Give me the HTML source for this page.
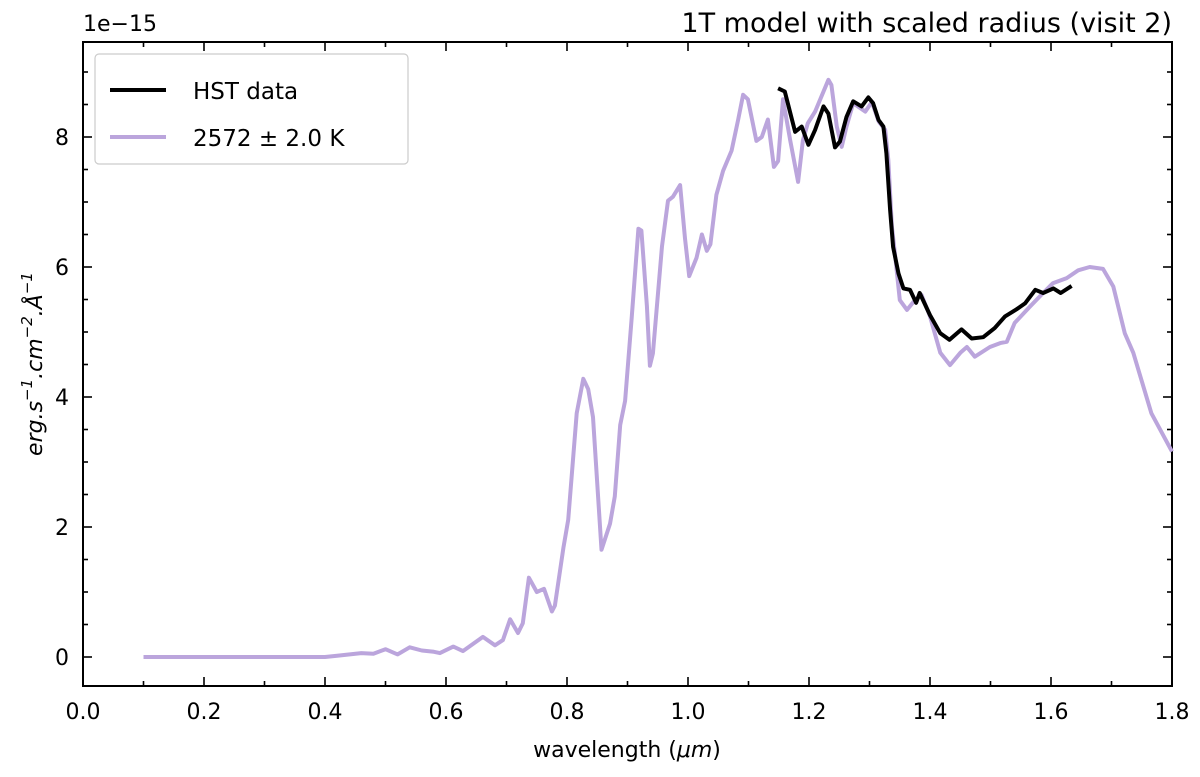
<!DOCTYPE html>
<html><head><meta charset="utf-8"><style>
body{margin:0;background:#fff}
svg text{font-family:"DejaVu Sans","Liberation Sans",sans-serif;fill:#000}
</style></head><body>
<svg id="c" width="1200" height="772"></svg>
<script>
const xTicks=[0.0,0.2,0.4,0.6,0.8,1.0,1.2,1.4,1.6,1.8];
const yTicks=[0,2,4,6,8];
const modelX=[0.1,0.2,0.3,0.4,0.42,0.46,0.48,0.5,0.52,0.54,0.56,0.58,0.59,0.612,0.628,0.661,0.681,0.694,0.706,0.719,0.727,0.737,0.75,0.762,0.775,0.78,0.794,0.802,0.816,0.827,0.835,0.843,0.857,0.871,0.879,0.888,0.896,0.907,0.918,0.923,0.932,0.937,0.942,0.957,0.967,0.975,0.987,0.995,1.002,1.014,1.023,1.031,1.037,1.047,1.058,1.072,1.083,1.091,1.099,1.113,1.122,1.132,1.142,1.149,1.157,1.169,1.182,1.19,1.198,1.21,1.232,1.237,1.246,1.254,1.262,1.273,1.293,1.304,1.315,1.326,1.331,1.337,1.342,1.35,1.362,1.375,1.386,1.4,1.417,1.433,1.45,1.461,1.474,1.499,1.516,1.527,1.54,1.565,1.587,1.603,1.626,1.645,1.664,1.686,1.703,1.722,1.736,1.766,1.8];
const modelY=[0,0,0,0,0.02,0.06,0.05,0.12,0.04,0.15,0.1,0.08,0.06,0.16,0.09,0.31,0.18,0.26,0.58,0.37,0.52,1.22,1.0,1.05,0.7,0.79,1.68,2.11,3.75,4.28,4.12,3.69,1.65,2.05,2.47,3.57,3.94,5.22,6.59,6.56,5.4,4.48,4.67,6.32,7.02,7.08,7.26,6.44,5.86,6.14,6.5,6.25,6.35,7.11,7.48,7.79,8.27,8.65,8.58,7.94,8.0,8.27,7.54,7.63,8.58,7.95,7.31,7.95,8.21,8.39,8.88,8.8,8.16,7.85,8.16,8.52,8.39,8.54,8.24,8.11,7.65,6.62,6.21,5.49,5.34,5.49,5.57,5.24,4.68,4.49,4.68,4.77,4.62,4.77,4.83,4.85,5.14,5.39,5.6,5.75,5.83,5.95,6.0,5.97,5.7,4.98,4.68,3.75,3.16];
const hstX=[1.149,1.16,1.177,1.188,1.199,1.21,1.224,1.232,1.243,1.251,1.262,1.273,1.287,1.298,1.306,1.315,1.323,1.328,1.334,1.339,1.348,1.356,1.367,1.377,1.383,1.4,1.417,1.432,1.452,1.469,1.488,1.507,1.524,1.543,1.557,1.574,1.587,1.604,1.616,1.634];
const hstY=[8.75,8.7,8.08,8.16,7.88,8.11,8.47,8.36,7.84,7.93,8.31,8.55,8.47,8.61,8.52,8.26,8.16,7.75,6.88,6.31,5.9,5.67,5.65,5.45,5.6,5.26,4.98,4.88,5.04,4.9,4.92,5.06,5.24,5.35,5.44,5.65,5.6,5.67,5.6,5.71];
const L=83,R=1172,T=42,B=686;
const sx=v=>L+v*(R-L)/1.8;
const sy=v=>657-v*65;
const NS="http://www.w3.org/2000/svg";
const svg=document.getElementById('c');
function mk(t,a,p){const e=document.createElementNS(NS,t);for(const k in a)e.setAttribute(k,a[k]);(p||svg).appendChild(e);return e;}
const axes=mk('rect',{x:L,y:T,width:R-L,height:B-T,fill:'none',stroke:'#000','stroke-width':2});


for(let i=0;i<=18;i++){const x=sx(i*0.1);const len=(i%2==0)?9:5;
 mk('line',{x1:x,x2:x,y1:B,y2:B-len,stroke:'#000','stroke-width':1.6});
 mk('line',{x1:x,x2:x,y1:T,y2:T+len,stroke:'#000','stroke-width':1.6});}
for(let v=-0.5;v<=9.5;v+=0.5){const y=sy(v);if(y<T||y>B)continue;const len=(Math.abs(v%2)<1e-9)?9:5;
 mk('line',{x1:L,x2:L+len,y1:y,y2:y,stroke:'#000','stroke-width':1.6});
 mk('line',{x1:R,x2:R-len,y1:y,y2:y,stroke:'#000','stroke-width':1.6});}
xTicks.forEach(v=>{const t=mk('text',{x:sx(v),y:B+33,'font-size':22,'text-anchor':'middle'});t.textContent=v.toFixed(1);
 
 });
yTicks.forEach(v=>{const t=mk('text',{x:L-14,y:sy(v)+8,'font-size':22,'text-anchor':'end'});t.textContent=v;
 
 });
function pts(xs,ys){return xs.map((x,i)=>sx(x).toFixed(1)+','+sy(ys[i]).toFixed(1)).join(' ');}
const m=mk('polyline',{points:pts(modelX,modelY),fill:'none',stroke:'#bba5dc','stroke-width':4,'stroke-linejoin':'round'});


const h=mk('polyline',{points:pts(hstX,hstY),fill:'none',stroke:'#000','stroke-width':4,'stroke-linejoin':'round'});


</script>
<svg width="1200" height="772" style="position:absolute;left:0;top:0">
<text x="1172" y="32" font-size="27" text-anchor="end">1T model with scaled radius (visit 2)</text>
<text x="83" y="31" font-size="22">1e−15</text>
<text x="627" y="757" font-size="22" text-anchor="middle">wavelength (<tspan font-style="italic">μm</tspan>)</text>
<text transform="translate(42,364) rotate(-90)" font-size="22" text-anchor="middle" font-style="italic">erg.s<tspan font-size="15" dy="-10">−1</tspan><tspan dy="10">.cm</tspan><tspan font-size="15" dy="-10">−2</tspan><tspan dy="10">.Å</tspan><tspan font-size="15" dy="-10">−1</tspan></text>
<g>
<rect x="95" y="54" width="313" height="110" rx="4" fill="#fff" stroke="#ccc" stroke-width="1.2"/>
<line x1="110" y1="90" x2="166" y2="90" stroke="#000" stroke-width="4"/>
<text x="193" y="99" font-size="23">HST data</text>
<line x1="110" y1="137" x2="166" y2="137" stroke="#bba5dc" stroke-width="4"/>
<text x="193" y="146" font-size="23">2572 ± 2.0 K</text>
</g>
</svg>
</body></html>
